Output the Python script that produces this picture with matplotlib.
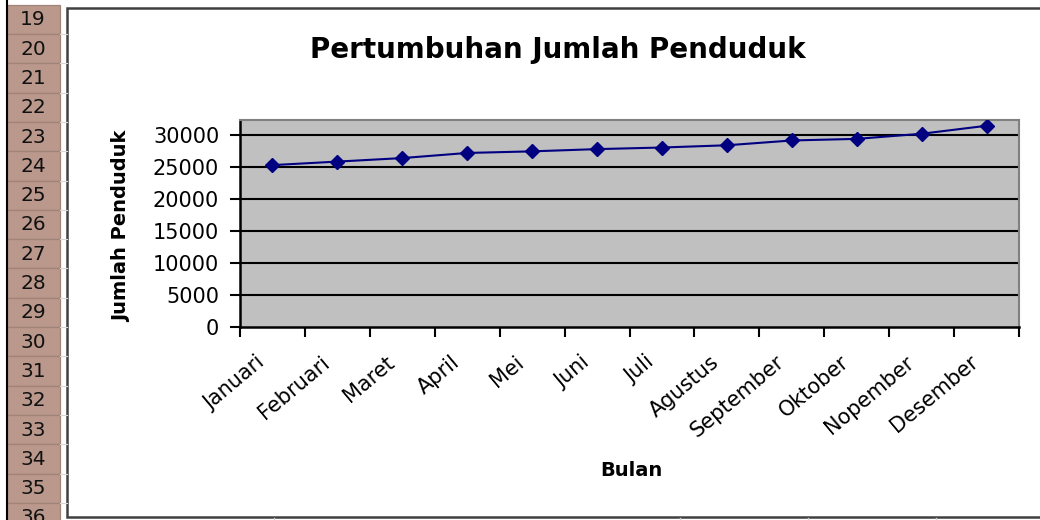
import matplotlib

matplotlib.use("Agg")
import matplotlib.pyplot as plt
import matplotlib.transforms as mtransforms
from matplotlib.patches import Rectangle
import numpy as np

months = ["Januari", "Februari", "Maret", "April", "Mei", "Juni", "Juli",
          "Agustus", "September", "Oktober", "Nopember", "Desember"]
penduduk = [25300, 25850, 26400, 27200, 27450, 27800, 28050, 28400,
            29150, 29400, 30200, 31450]
y_ticks = [0, 5000, 10000, 15000, 20000, 25000, 30000]
row_numbers = list(range(19, 37))

W, H = 1040, 520
fig = plt.figure(figsize=(W / 100, H / 100), dpi=100)
fig.patch.set_facecolor("white")


def px(x, y):
    # pixel (from top-left) -> figure fraction
    return x / W, 1 - y / H


# spreadsheet row header on the left
row_h = 29.3
row_top0 = 4.7
for i, n in enumerate(row_numbers):
    top = row_top0 + i * row_h
    x0, y0 = px(7, top + row_h)
    fig.patches.append(Rectangle((x0, y0), 53 / W, row_h / H, transform=fig.transFigure,
                                 facecolor="#BA988B", edgecolor="#A08478", lw=0.9))
    tx, ty = px(33, top + row_h / 2 + 0.5)
    fig.text(tx, ty, str(n), ha="center", va="center", fontsize=14.5, color="#111111")
    # faint sheet gridline between header and chart
    fig.add_artist(plt.Line2D([60 / W, 67 / W], [1 - (top + row_h) / H] * 2,
                              transform=fig.transFigure, color="#D8D8D8", lw=0.8))
fig.add_artist(plt.Line2D([7 / W, 7 / W], [0, 1], transform=fig.transFigure, color="black", lw=1.5))

# chart area border
cx0, cy0 = px(67, 517)
fig.patches.append(Rectangle((cx0, cy0), (W + 5 - 67) / W, (517 - 8) / H, transform=fig.transFigure,
                             facecolor="white", edgecolor="#404040", lw=1.8))
for gx in [274, 680, 808, 936]:
    fig.add_artist(plt.Line2D([gx / W] * 2, [0, 2 / H], transform=fig.transFigure, color="#D0D0D0", lw=1))

# plot area
ax = fig.add_axes([240 / W, 1 - 327 / H, (1019 - 240) / W, (327 - 120) / H])
ax.set_zorder(5)
ax.set_facecolor("#C0C0C0")
x = np.arange(len(months))
ax.set_xlim(-0.5, len(months) - 0.5)
ax.set_ylim(0, 32350)

ax.set_yticks(y_ticks)
ax.set_yticklabels([str(v) for v in y_ticks], fontsize=15)
for v in y_ticks[1:]:
    ax.axhline(v, color="black", lw=1.5, zorder=1)

ax.plot(x, penduduk, color="#000080", lw=1.5, marker="D", markersize=7,
        markerfacecolor="#000080", markeredgecolor="#000080", zorder=3)

ax.set_xticks(x)
ax.set_xticklabels(months, fontsize=15, rotation=40, ha="right", va="top", rotation_mode="anchor")
ax.set_xticks(np.arange(-0.5, len(months), 1.0), minor=True)
ax.tick_params(axis="x", which="major", length=0, pad=18)
ax.tick_params(axis="x", which="minor", length=7, width=1.5, direction="out", color="black")
ax.tick_params(axis="y", length=7, width=1.5, direction="out", color="black", pad=8)
shift = mtransforms.ScaledTranslation(-17 / 100, 0, fig.dpi_scale_trans)
for lab in ax.get_xticklabels():
    lab.set_transform(lab.get_transform() + shift)

for side in ["top", "right"]:
    ax.spines[side].set_color("#808080")
    ax.spines[side].set_linewidth(1.5)
for side in ["left", "bottom"]:
    ax.spines[side].set_color("black")
    ax.spines[side].set_linewidth(1.8)

tx, ty = px(558, 50)
fig.text(tx, ty, "Pertumbuhan Jumlah Penduduk", ha="center", va="center",
         fontsize=20, fontweight="bold")
tx, ty = px(631, 470)
fig.text(tx, ty, "Bulan", ha="center", va="center", fontsize=14, fontweight="bold")
tx, ty = px(122, 226)
fig.text(tx, ty, "Jumlah Penduduk", ha="center", va="center", rotation=90,
         fontsize=14, fontweight="bold")

fig.savefig("out.png", dpi=100)
